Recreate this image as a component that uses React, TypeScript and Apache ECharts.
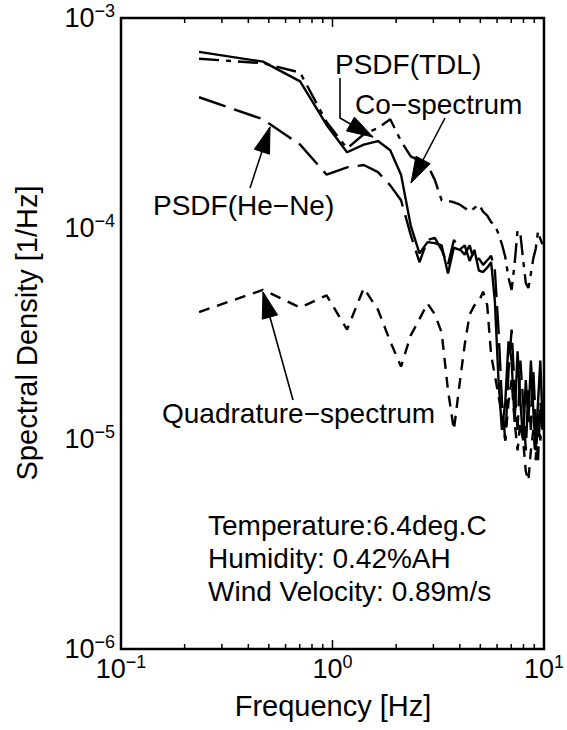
import React, { useEffect, useRef } from 'react';
import * as echarts from 'echarts';

const FONT = '"Liberation Sans", Arial, Helvetica, sans-serif';

// Frequency bins [Hz]
const freqs = [0.234, 0.469, 0.703, 0.938, 1.172, 1.406, 1.641, 1.875, 2.109, 2.344, 2.578, 2.813, 3.047, 3.281, 3.516, 3.75, 3.984, 4.219, 4.453, 4.688, 4.922, 5.156, 5.391, 5.625, 5.859, 6.094, 6.328, 6.563, 6.797, 7.031, 7.266, 7.5, 7.734, 7.969, 8.203, 8.438, 8.672, 8.906, 9.141, 9.375, 9.609, 9.844];

// PSDF(TDL) - solid
const psdfTDL = [6.9e-4, 6.2e-4, 5.0e-4, 3.1e-4, 2.3e-4, 2.5e-4, 2.6e-4, 2.35e-4, 1.8e-4, 1.03e-4, 7.6e-5, 8.6e-5, 8.5e-5, 8.3e-5, 6.1e-5, 8.1e-5, 7.9e-5, 8.3e-5, 7.0e-5, 7.9e-5, 6.3e-5, 6.2e-5, 6.5e-5, 6.9e-5, 4.5e-5, 1.9e-5, 1.1e-5, 1.5e-5, 2.9e-5, 2.35e-5, 1.2e-5, 2.6e-5, 1.5e-5, 9.8e-6, 1.9e-5, 1.2e-5, 2.35e-5, 1.36e-5, 8.8e-6, 1.5e-5, 2.35e-5, 1.2e-5];

// Co-spectrum - dash-dot
const coSpectrum = [6.4e-4, 6.1e-4, 5.5e-4, 3.2e-4, 2.4e-4, 2.8e-4, 3.0e-4, 3.3e-4, 2.6e-4, 2.2e-4, 2.1e-4, 2.0e-4, 1.7e-4, 1.36e-4, 1.35e-4, 1.33e-4, 1.3e-4, 1.25e-4, 1.2e-4, 1.25e-4, 1.3e-4, 1.2e-4, 1.15e-4, 1.07e-4, 1.04e-4, 9.4e-5, 8.4e-5, 7.3e-5, 5.8e-5, 5.1e-5, 6.8e-5, 9.8e-5, 9.4e-5, 7.1e-5, 5.5e-5, 5.2e-5, 6.1e-5, 7.2e-5, 8.0e-5, 9.7e-5, 8.9e-5, 8.4e-5];

// PSDF(He-Ne) - long dash
const psdfHeNe = [4.2e-4, 3.3e-4, 2.5e-4, 1.8e-4, 1.95e-4, 2.0e-4, 1.85e-4, 1.6e-4, 1.36e-4, 9.3e-5, 6.9e-5, 8.8e-5, 9.0e-5, 7.9e-5, 6.7e-5, 8.8e-5, 8.0e-5, 7.5e-5, 8.3e-5, 6.9e-5, 7.2e-5, 6.7e-5, 7.05e-5, 7.4e-5, 6.3e-5, 3.3e-5, 1.5e-5, 9.8e-6, 2.1e-5, 3.3e-5, 1.7e-5, 1.1e-5, 2.35e-5, 1.5e-5, 8.8e-6, 1.7e-5, 1.1e-5, 2.1e-5, 1.2e-5, 7.9e-6, 1.5e-5, 1.1e-5];

// Quadrature-spectrum - short dash
const quadSpectrum = [4.0e-5, 5.1e-5, 4.2e-5, 4.8e-5, 3.3e-5, 5.2e-5, 4.1e-5, 2.9e-5, 2.2e-5, 3.1e-5, 3.7e-5, 4.4e-5, 3.9e-5, 3.2e-5, 1.7e-5, 1.1e-5, 1.8e-5, 2.8e-5, 3.9e-5, 4.3e-5, 4.5e-5, 5.0e-5, 4.3e-5, 2.5e-5, 2.0e-5, 1.6e-5, 1.3e-5, 9.8e-6, 1.5e-5, 1.9e-5, 1.2e-5, 8.8e-6, 1.2e-5, 9.8e-6, 7.0e-6, 6.3e-6, 8.8e-6, 1.1e-5, 7.9e-6, 1.36e-5, 9.8e-6, 1.2e-5];

// Axis ticks
const xMajorTicks = [0.1, 1, 10];
const xMinorTicks = [0.2, 0.3, 0.4, 0.5, 0.6, 0.7, 0.8, 0.9, 2, 3, 4, 5, 6, 7, 8, 9];
const yMajorTicks = [1e-6, 1e-5, 1e-4, 1e-3];
const yMinorTicks = [2e-6, 3e-6, 4e-6, 5e-6, 6e-6, 7e-6, 8e-6, 9e-6, 2e-5, 3e-5, 4e-5, 5e-5, 6e-5, 7e-5, 8e-5, 9e-5, 2e-4, 3e-4, 4e-4, 5e-4, 6e-4, 7e-4, 8e-4, 9e-4];

const X_MIN = 0.1, X_MAX = 10, Y_MIN = 1e-6, Y_MAX = 1e-3;

function arrowHead(tail: number[], tip: number[], len = 26, half = 8) {
  const dx = tip[0] - tail[0], dy = tip[1] - tail[1];
  const d = Math.sqrt(dx * dx + dy * dy);
  const ux = dx / d, uy = dy / d;
  const bx = tip[0] - ux * len, by = tip[1] - uy * len;
  const nx = -uy, ny = ux;
  return {
    type: 'polygon',
    shape: { points: [tip, [bx + nx * half, by + ny * half], [bx - nx * half, by - ny * half]] },
    style: { fill: '#000', stroke: '#000', lineWidth: 1 },
    z: 100,
  };
}

function arrow(points: number[][]) {
  const n = points.length;
  return [
    { type: 'polyline', shape: { points }, style: { stroke: '#000', lineWidth: 1.6, fill: null }, z: 100 },
    arrowHead(points[n - 2], points[n - 1]),
  ];
}

function textEl(text: string, x: number, y: number, size = 28, extra: any = {}) {
  return {
    type: 'text',
    x, y, z: 100,
    style: { text, fill: '#000', font: `${size}px ${FONT}`, textAlign: 'left', textVerticalAlign: 'middle', ...extra },
  };
}

function supLabel(v: number) {
  const e = Math.round(Math.log10(v));
  return '{b|10}{s|' + (e < 0 ? '\u2212' + (-e) : String(e)) + '}';
}

const labelRich = {
  b: { fontSize: 27, fontFamily: FONT, color: '#000', lineHeight: 32 },
  s: { fontSize: 18, fontFamily: FONT, color: '#000', lineHeight: 18, verticalAlign: 'top' },
};

export default function App() {
  const ref = useRef<HTMLDivElement>(null);
  useEffect(() => {
    if (!ref.current) return;
    const chart = echarts.init(ref.current, undefined, { renderer: 'svg' });

    const tickRender = (axis: 'x' | 'y') => (params: any, api: any) => {
      const v = api.value(0);
      const major = api.value(2) === 1;
      const len = major ? 9 : 5;
      const st = { stroke: '#000', lineWidth: 1.5 };
      if (axis === 'x') {
        const pb = api.coord([v, Y_MIN]);
        const pt = api.coord([v, Y_MAX]);
        return {
          type: 'group',
          children: [
            { type: 'line', shape: { x1: pb[0], y1: pb[1], x2: pb[0], y2: pb[1] - len }, style: st },
            { type: 'line', shape: { x1: pt[0], y1: pt[1], x2: pt[0], y2: pt[1] + len }, style: st },
          ],
        };
      }
      const pl = api.coord([X_MIN, v]);
      const pr = api.coord([X_MAX, v]);
      return {
        type: 'group',
        children: [
          { type: 'line', shape: { x1: pl[0], y1: pl[1], x2: pl[0] + len, y2: pl[1] }, style: st },
          { type: 'line', shape: { x1: pr[0], y1: pr[1], x2: pr[0] - len, y2: pr[1] }, style: st },
        ],
      };
    };

    const xTickData = [
      ...xMajorTicks.map((v) => [v, Y_MIN, 1]),
      ...xMinorTicks.map((v) => [v, Y_MIN, 0]),
    ];
    const yTickData = [
      ...yMajorTicks.map((v) => [X_MIN, v, 1]),
      ...yMinorTicks.map((v) => [X_MIN, v, 0]),
    ];

    const mk = (arr: number[]) => freqs.map((f, i) => [f, arr[i]]);
    const lineBase = { type: 'line', showSymbol: false, symbol: 'none', clip: true, z: 10 };

    chart.setOption({
      animation: false,
      backgroundColor: '#fff',
      grid: { left: 121, right: 23, top: 18, bottom: 81, show: true, borderColor: '#000', borderWidth: 2.5, backgroundColor: 'transparent' },
      xAxis: {
        type: 'log', logBase: 10, min: X_MIN, max: X_MAX, splitNumber: 2,
        axisLine: { show: false }, axisTick: { show: false }, splitLine: { show: false },
        axisLabel: { margin: 4, formatter: supLabel, rich: labelRich },
      },
      yAxis: {
        type: 'log', logBase: 10, min: Y_MIN, max: Y_MAX, splitNumber: 3,
        axisLine: { show: false }, axisTick: { show: false }, splitLine: { show: false },
        axisLabel: { margin: 6, formatter: supLabel, rich: labelRich },
      },
      series: [
        { ...lineBase, name: 'PSDF(TDL)', data: mk(psdfTDL), lineStyle: { color: '#000', width: 2.4, type: 'solid' } },
        { ...lineBase, name: 'Co-spectrum', data: mk(coSpectrum), lineStyle: { color: '#000', width: 2.4, type: [20, 7, 5, 7] } },
        { ...lineBase, name: 'PSDF(He-Ne)', data: mk(psdfHeNe), lineStyle: { color: '#000', width: 2.4, type: [28, 9] } },
        { ...lineBase, name: 'Quadrature-spectrum', data: mk(quadSpectrum), lineStyle: { color: '#000', width: 2.4, type: [11, 8] } },
        { type: 'custom', renderItem: tickRender('x'), data: xTickData, dimensions: ['x', 'y', 'm'], encode: { x: 0, y: 1 }, clip: false, silent: true, z: 20 },
        { type: 'custom', renderItem: tickRender('y'), data: yTickData, dimensions: ['x', 'y', 'm'], encode: { x: 0, y: 1 }, clip: false, silent: true, z: 20 },
      ],
      graphic: [
        textEl('PSDF(TDL)', 335, 64),
        textEl('Co\u2212spectrum', 355, 104),
        textEl('PSDF(He\u2212Ne)', 153, 205),
        textEl('Quadrature\u2212spectrum', 162, 413),
        textEl('Temperature:6.4deg.C', 208, 525),
        textEl('Humidity: 0.42%AH', 208, 558),
        textEl('Wind Velocity: 0.89m/s', 208, 591),
        textEl('Frequency [Hz]', 333, 706, 29, { textAlign: 'center' }),
        {
          type: 'text', x: 27, y: 333, rotation: Math.PI / 2, z: 100,
          style: { text: 'Spectral Density [1/Hz]', fill: '#000', font: `29px ${FONT}`, textAlign: 'center', textVerticalAlign: 'middle' },
        },
        ...arrow([[340, 78], [340, 118], [373, 137]]),
        ...arrow([[445, 118], [411, 183]]),
        ...arrow([[250, 188], [270, 127]]),
        ...arrow([[293, 400], [263, 292]]),
      ],
    });
    return () => chart.dispose();
  }, []);
  return <div ref={ref} style={{ position: 'absolute', left: 0, top: 0, width: 567, height: 730 }} />;
}
